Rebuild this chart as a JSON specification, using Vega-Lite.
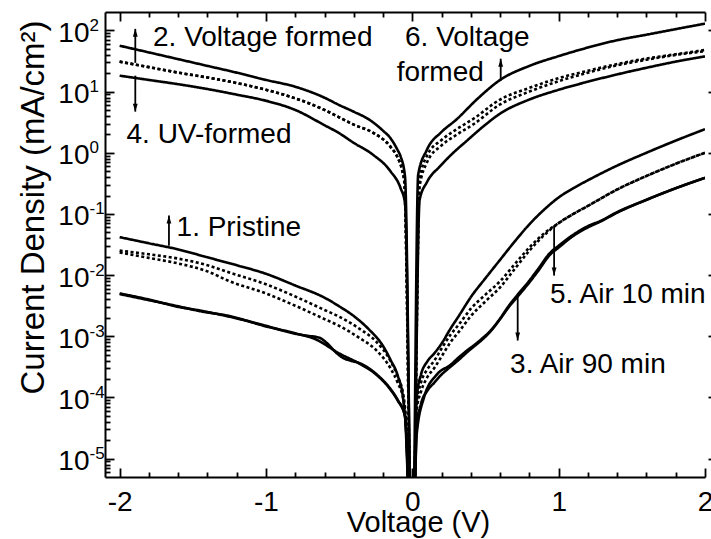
{
  "$schema": "https://vega.github.io/schema/vega-lite/v6.json",
  "width": 600,
  "height": 465,
  "autosize": {"type": "none"},
  "padding": {"left": 105, "top": 12, "right": 6, "bottom": 62},
  "background": "white",
  "config": {
    "view": {"stroke": null},
    "axis": {
      "grid": false,
      "labelFont": "Liberation Sans",
      "titleFont": "Liberation Sans",
      "labelColor": "black",
      "titleColor": "black",
      "tickColor": "black",
      "domainColor": "black",
      "titleFontWeight": "normal",
      "tickWidth": 1.8,
      "domainWidth": 2,
      "labelFontSize": 28,
      "labelOverlap": false,
      "labelFlush": false
    }
  },
  "datasets": {
    "curves": [
      {"sample": "1. Pristine", "sweep": "a", "V": -2, "J": 0.0417},
      {"sample": "1. Pristine", "sweep": "a", "V": -1.8, "J": 0.0331},
      {"sample": "1. Pristine", "sweep": "a", "V": -1.6, "J": 0.0263},
      {"sample": "1. Pristine", "sweep": "a", "V": -1.4, "J": 0.0195},
      {"sample": "1. Pristine", "sweep": "a", "V": -1.2, "J": 0.0145},
      {"sample": "1. Pristine", "sweep": "a", "V": -1, "J": 0.0105},
      {"sample": "1. Pristine", "sweep": "a", "V": -0.8, "J": 0.00676},
      {"sample": "1. Pristine", "sweep": "a", "V": -0.6, "J": 0.00427},
      {"sample": "1. Pristine", "sweep": "a", "V": -0.5, "J": 0.00309},
      {"sample": "1. Pristine", "sweep": "a", "V": -0.4, "J": 0.00214},
      {"sample": "1. Pristine", "sweep": "a", "V": -0.3, "J": 0.00132},
      {"sample": "1. Pristine", "sweep": "a", "V": -0.2, "J": 0.000692},
      {"sample": "1. Pristine", "sweep": "a", "V": -0.15, "J": 0.000417},
      {"sample": "1. Pristine", "sweep": "a", "V": -0.1, "J": 0.000229},
      {"sample": "1. Pristine", "sweep": "a", "V": -0.065, "J": 0.000105},
      {"sample": "1. Pristine", "sweep": "a", "V": -0.05, "J": 0.0000501},
      {"sample": "1. Pristine", "sweep": "a", "V": 0, "J": 1e-7},
      {"sample": "1. Pristine", "sweep": "a", "V": 0.03, "J": 0.0001},
      {"sample": "1. Pristine", "sweep": "a", "V": 0.06, "J": 0.00024},
      {"sample": "1. Pristine", "sweep": "a", "V": 0.1, "J": 0.00038},
      {"sample": "1. Pristine", "sweep": "a", "V": 0.15, "J": 0.000525},
      {"sample": "1. Pristine", "sweep": "a", "V": 0.2, "J": 0.000759},
      {"sample": "1. Pristine", "sweep": "a", "V": 0.26, "J": 0.00132},
      {"sample": "1. Pristine", "sweep": "a", "V": 0.32, "J": 0.00219},
      {"sample": "1. Pristine", "sweep": "a", "V": 0.4, "J": 0.00437},
      {"sample": "1. Pristine", "sweep": "a", "V": 0.5, "J": 0.00891},
      {"sample": "1. Pristine", "sweep": "a", "V": 0.6, "J": 0.0178},
      {"sample": "1. Pristine", "sweep": "a", "V": 0.7, "J": 0.0355},
      {"sample": "1. Pristine", "sweep": "a", "V": 0.8, "J": 0.0676},
      {"sample": "1. Pristine", "sweep": "a", "V": 0.9, "J": 0.117},
      {"sample": "1. Pristine", "sweep": "a", "V": 1, "J": 0.186},
      {"sample": "1. Pristine", "sweep": "a", "V": 1.1, "J": 0.263},
      {"sample": "1. Pristine", "sweep": "a", "V": 1.2, "J": 0.355},
      {"sample": "1. Pristine", "sweep": "a", "V": 1.4, "J": 0.617},
      {"sample": "1. Pristine", "sweep": "a", "V": 1.6, "J": 1.0},
      {"sample": "1. Pristine", "sweep": "a", "V": 1.8, "J": 1.58},
      {"sample": "1. Pristine", "sweep": "a", "V": 2, "J": 2.43},

      {"sample": "6. Voltage formed", "sweep": "a", "V": -2, "J": 56.2},
      {"sample": "6. Voltage formed", "sweep": "a", "V": -1.8, "J": 43.7},
      {"sample": "6. Voltage formed", "sweep": "a", "V": -1.6, "J": 33.9},
      {"sample": "6. Voltage formed", "sweep": "a", "V": -1.4, "J": 26.3},
      {"sample": "6. Voltage formed", "sweep": "a", "V": -1.2, "J": 20.4},
      {"sample": "6. Voltage formed", "sweep": "a", "V": -1, "J": 15.5},
      {"sample": "6. Voltage formed", "sweep": "a", "V": -0.8, "J": 12.0},
      {"sample": "6. Voltage formed", "sweep": "a", "V": -0.6, "J": 7.94},
      {"sample": "6. Voltage formed", "sweep": "a", "V": -0.5, "J": 6.03},
      {"sample": "6. Voltage formed", "sweep": "a", "V": -0.4, "J": 4.68},
      {"sample": "6. Voltage formed", "sweep": "a", "V": -0.3, "J": 3.55},
      {"sample": "6. Voltage formed", "sweep": "a", "V": -0.2, "J": 2.29},
      {"sample": "6. Voltage formed", "sweep": "a", "V": -0.15, "J": 1.74},
      {"sample": "6. Voltage formed", "sweep": "a", "V": -0.1, "J": 1.10},
      {"sample": "6. Voltage formed", "sweep": "a", "V": -0.08, "J": 0.871},
      {"sample": "6. Voltage formed", "sweep": "a", "V": -0.05, "J": 0.407},
      {"sample": "6. Voltage formed", "sweep": "a", "V": 0, "J": 1e-7},
      {"sample": "6. Voltage formed", "sweep": "a", "V": 0.04, "J": 0.437},
      {"sample": "6. Voltage formed", "sweep": "a", "V": 0.1, "J": 1.12},
      {"sample": "6. Voltage formed", "sweep": "a", "V": 0.2, "J": 2.19},
      {"sample": "6. Voltage formed", "sweep": "a", "V": 0.3, "J": 3.47},
      {"sample": "6. Voltage formed", "sweep": "a", "V": 0.44, "J": 7.41},
      {"sample": "6. Voltage formed", "sweep": "a", "V": 0.6, "J": 15.5},
      {"sample": "6. Voltage formed", "sweep": "a", "V": 0.8, "J": 26.3},
      {"sample": "6. Voltage formed", "sweep": "a", "V": 1, "J": 38.0},
      {"sample": "6. Voltage formed", "sweep": "a", "V": 1.2, "J": 52.5},
      {"sample": "6. Voltage formed", "sweep": "a", "V": 1.4, "J": 69.2},
      {"sample": "6. Voltage formed", "sweep": "a", "V": 1.6, "J": 85.1},
      {"sample": "6. Voltage formed", "sweep": "a", "V": 1.8, "J": 105},
      {"sample": "6. Voltage formed", "sweep": "a", "V": 2, "J": 129},

      {"sample": "2. Voltage formed", "sweep": "a", "V": -2, "J": 30.9},
      {"sample": "2. Voltage formed", "sweep": "a", "V": -1.8, "J": 25.1},
      {"sample": "2. Voltage formed", "sweep": "a", "V": -1.6, "J": 20.4},
      {"sample": "2. Voltage formed", "sweep": "a", "V": -1.4, "J": 17.0},
      {"sample": "2. Voltage formed", "sweep": "a", "V": -1.2, "J": 13.8},
      {"sample": "2. Voltage formed", "sweep": "a", "V": -1, "J": 10.7},
      {"sample": "2. Voltage formed", "sweep": "a", "V": -0.8, "J": 7.76},
      {"sample": "2. Voltage formed", "sweep": "a", "V": -0.6, "J": 5.01},
      {"sample": "2. Voltage formed", "sweep": "a", "V": -0.5, "J": 3.80},
      {"sample": "2. Voltage formed", "sweep": "a", "V": -0.4, "J": 2.88},
      {"sample": "2. Voltage formed", "sweep": "a", "V": -0.27, "J": 2.14},
      {"sample": "2. Voltage formed", "sweep": "a", "V": -0.15, "J": 1.26},
      {"sample": "2. Voltage formed", "sweep": "a", "V": -0.1, "J": 0.832},
      {"sample": "2. Voltage formed", "sweep": "a", "V": -0.07, "J": 0.525},
      {"sample": "2. Voltage formed", "sweep": "a", "V": -0.055, "J": 0.339},
      {"sample": "2. Voltage formed", "sweep": "a", "V": 0, "J": 1e-7},
      {"sample": "2. Voltage formed", "sweep": "a", "V": 0.05, "J": 0.363},
      {"sample": "2. Voltage formed", "sweep": "a", "V": 0.1, "J": 0.891},
      {"sample": "2. Voltage formed", "sweep": "a", "V": 0.2, "J": 1.62},
      {"sample": "2. Voltage formed", "sweep": "a", "V": 0.3, "J": 2.40},
      {"sample": "2. Voltage formed", "sweep": "a", "V": 0.42, "J": 3.63},
      {"sample": "2. Voltage formed", "sweep": "a", "V": 0.6, "J": 7.41},
      {"sample": "2. Voltage formed", "sweep": "a", "V": 0.8, "J": 11.5},
      {"sample": "2. Voltage formed", "sweep": "a", "V": 1, "J": 16.6},
      {"sample": "2. Voltage formed", "sweep": "a", "V": 1.2, "J": 21.9},
      {"sample": "2. Voltage formed", "sweep": "a", "V": 1.4, "J": 28.2},
      {"sample": "2. Voltage formed", "sweep": "a", "V": 1.6, "J": 34.7},
      {"sample": "2. Voltage formed", "sweep": "a", "V": 1.8, "J": 40.7},
      {"sample": "2. Voltage formed", "sweep": "a", "V": 2, "J": 47.9},

      {"sample": "2. Voltage formed", "sweep": "b", "V": -2, "J": 30.9},
      {"sample": "2. Voltage formed", "sweep": "b", "V": -1.8, "J": 25.1},
      {"sample": "2. Voltage formed", "sweep": "b", "V": -1.6, "J": 20.4},
      {"sample": "2. Voltage formed", "sweep": "b", "V": -1.4, "J": 17.0},
      {"sample": "2. Voltage formed", "sweep": "b", "V": -1.2, "J": 13.8},
      {"sample": "2. Voltage formed", "sweep": "b", "V": -1, "J": 10.7},
      {"sample": "2. Voltage formed", "sweep": "b", "V": -0.8, "J": 7.76},
      {"sample": "2. Voltage formed", "sweep": "b", "V": -0.6, "J": 5.01},
      {"sample": "2. Voltage formed", "sweep": "b", "V": -0.5, "J": 3.80},
      {"sample": "2. Voltage formed", "sweep": "b", "V": -0.4, "J": 2.88},
      {"sample": "2. Voltage formed", "sweep": "b", "V": -0.27, "J": 2.14},
      {"sample": "2. Voltage formed", "sweep": "b", "V": -0.15, "J": 1.26},
      {"sample": "2. Voltage formed", "sweep": "b", "V": -0.1, "J": 0.832},
      {"sample": "2. Voltage formed", "sweep": "b", "V": -0.07, "J": 0.525},
      {"sample": "2. Voltage formed", "sweep": "b", "V": -0.055, "J": 0.339},
      {"sample": "2. Voltage formed", "sweep": "b", "V": 0, "J": 1e-7},
      {"sample": "2. Voltage formed", "sweep": "b", "V": 0.05, "J": 0.282},
      {"sample": "2. Voltage formed", "sweep": "b", "V": 0.1, "J": 0.692},
      {"sample": "2. Voltage formed", "sweep": "b", "V": 0.2, "J": 1.32},
      {"sample": "2. Voltage formed", "sweep": "b", "V": 0.3, "J": 1.95},
      {"sample": "2. Voltage formed", "sweep": "b", "V": 0.42, "J": 2.95},
      {"sample": "2. Voltage formed", "sweep": "b", "V": 0.6, "J": 6.17},
      {"sample": "2. Voltage formed", "sweep": "b", "V": 0.8, "J": 10.0},
      {"sample": "2. Voltage formed", "sweep": "b", "V": 1, "J": 14.8},
      {"sample": "2. Voltage formed", "sweep": "b", "V": 1.2, "J": 20.4},
      {"sample": "2. Voltage formed", "sweep": "b", "V": 1.4, "J": 26.9},
      {"sample": "2. Voltage formed", "sweep": "b", "V": 1.6, "J": 33.1},
      {"sample": "2. Voltage formed", "sweep": "b", "V": 1.8, "J": 39.8},
      {"sample": "2. Voltage formed", "sweep": "b", "V": 2, "J": 45.7},

      {"sample": "4. UV-formed", "sweep": "a", "V": -2, "J": 18.2},
      {"sample": "4. UV-formed", "sweep": "a", "V": -1.8, "J": 15.5},
      {"sample": "4. UV-formed", "sweep": "a", "V": -1.6, "J": 13.2},
      {"sample": "4. UV-formed", "sweep": "a", "V": -1.4, "J": 11.0},
      {"sample": "4. UV-formed", "sweep": "a", "V": -1.2, "J": 8.91},
      {"sample": "4. UV-formed", "sweep": "a", "V": -1, "J": 7.08},
      {"sample": "4. UV-formed", "sweep": "a", "V": -0.8, "J": 5.01},
      {"sample": "4. UV-formed", "sweep": "a", "V": -0.6, "J": 2.82},
      {"sample": "4. UV-formed", "sweep": "a", "V": -0.5, "J": 2.09},
      {"sample": "4. UV-formed", "sweep": "a", "V": -0.4, "J": 1.45},
      {"sample": "4. UV-formed", "sweep": "a", "V": -0.27, "J": 0.933},
      {"sample": "4. UV-formed", "sweep": "a", "V": -0.15, "J": 0.501},
      {"sample": "4. UV-formed", "sweep": "a", "V": -0.08, "J": 0.263},
      {"sample": "4. UV-formed", "sweep": "a", "V": -0.05, "J": 0.151},
      {"sample": "4. UV-formed", "sweep": "a", "V": 0, "J": 1e-7},
      {"sample": "4. UV-formed", "sweep": "a", "V": 0.05, "J": 0.170},
      {"sample": "4. UV-formed", "sweep": "a", "V": 0.1, "J": 0.331},
      {"sample": "4. UV-formed", "sweep": "a", "V": 0.19, "J": 0.603},
      {"sample": "4. UV-formed", "sweep": "a", "V": 0.28, "J": 1.0},
      {"sample": "4. UV-formed", "sweep": "a", "V": 0.37, "J": 1.55},
      {"sample": "4. UV-formed", "sweep": "a", "V": 0.48, "J": 2.63},
      {"sample": "4. UV-formed", "sweep": "a", "V": 0.6, "J": 4.37},
      {"sample": "4. UV-formed", "sweep": "a", "V": 0.8, "J": 7.41},
      {"sample": "4. UV-formed", "sweep": "a", "V": 1, "J": 10.7},
      {"sample": "4. UV-formed", "sweep": "a", "V": 1.2, "J": 14.5},
      {"sample": "4. UV-formed", "sweep": "a", "V": 1.4, "J": 19.1},
      {"sample": "4. UV-formed", "sweep": "a", "V": 1.6, "J": 24.5},
      {"sample": "4. UV-formed", "sweep": "a", "V": 1.8, "J": 30.9},
      {"sample": "4. UV-formed", "sweep": "a", "V": 2, "J": 37.6},

      {"sample": "5. Air 10 min", "sweep": "a", "V": -2, "J": 0.0251},
      {"sample": "5. Air 10 min", "sweep": "a", "V": -1.8, "J": 0.0219},
      {"sample": "5. Air 10 min", "sweep": "a", "V": -1.6, "J": 0.0186},
      {"sample": "5. Air 10 min", "sweep": "a", "V": -1.4, "J": 0.0145},
      {"sample": "5. Air 10 min", "sweep": "a", "V": -1.25, "J": 0.011},
      {"sample": "5. Air 10 min", "sweep": "a", "V": -1, "J": 0.00708},
      {"sample": "5. Air 10 min", "sweep": "a", "V": -0.8, "J": 0.00447},
      {"sample": "5. Air 10 min", "sweep": "a", "V": -0.6, "J": 0.00269},
      {"sample": "5. Air 10 min", "sweep": "a", "V": -0.5, "J": 0.00209},
      {"sample": "5. Air 10 min", "sweep": "a", "V": -0.36, "J": 0.00132},
      {"sample": "5. Air 10 min", "sweep": "a", "V": -0.25, "J": 0.000832},
      {"sample": "5. Air 10 min", "sweep": "a", "V": -0.15, "J": 0.000398},
      {"sample": "5. Air 10 min", "sweep": "a", "V": -0.1, "J": 0.000219},
      {"sample": "5. Air 10 min", "sweep": "a", "V": -0.06, "J": 0.000105},
      {"sample": "5. Air 10 min", "sweep": "a", "V": -0.045, "J": 0.0000501},
      {"sample": "5. Air 10 min", "sweep": "a", "V": 0, "J": 1e-7},
      {"sample": "5. Air 10 min", "sweep": "a", "V": 0.03, "J": 0.0000794},
      {"sample": "5. Air 10 min", "sweep": "a", "V": 0.06, "J": 0.000178},
      {"sample": "5. Air 10 min", "sweep": "a", "V": 0.1, "J": 0.000282},
      {"sample": "5. Air 10 min", "sweep": "a", "V": 0.15, "J": 0.000398},
      {"sample": "5. Air 10 min", "sweep": "a", "V": 0.2, "J": 0.000631},
      {"sample": "5. Air 10 min", "sweep": "a", "V": 0.26, "J": 0.00105},
      {"sample": "5. Air 10 min", "sweep": "a", "V": 0.32, "J": 0.00158},
      {"sample": "5. Air 10 min", "sweep": "a", "V": 0.4, "J": 0.00282},
      {"sample": "5. Air 10 min", "sweep": "a", "V": 0.5, "J": 0.00479},
      {"sample": "5. Air 10 min", "sweep": "a", "V": 0.6, "J": 0.00794},
      {"sample": "5. Air 10 min", "sweep": "a", "V": 0.7, "J": 0.0151},
      {"sample": "5. Air 10 min", "sweep": "a", "V": 0.8, "J": 0.0282},
      {"sample": "5. Air 10 min", "sweep": "a", "V": 0.9, "J": 0.0479},
      {"sample": "5. Air 10 min", "sweep": "a", "V": 1, "J": 0.0708},
      {"sample": "5. Air 10 min", "sweep": "a", "V": 1.1, "J": 0.1},
      {"sample": "5. Air 10 min", "sweep": "a", "V": 1.2, "J": 0.135},
      {"sample": "5. Air 10 min", "sweep": "a", "V": 1.4, "J": 0.251},
      {"sample": "5. Air 10 min", "sweep": "a", "V": 1.6, "J": 0.417},
      {"sample": "5. Air 10 min", "sweep": "a", "V": 1.8, "J": 0.661},
      {"sample": "5. Air 10 min", "sweep": "a", "V": 2, "J": 1.0},

      {"sample": "5. Air 10 min", "sweep": "b", "V": -2, "J": 0.0234},
      {"sample": "5. Air 10 min", "sweep": "b", "V": -1.8, "J": 0.0191},
      {"sample": "5. Air 10 min", "sweep": "b", "V": -1.6, "J": 0.0155},
      {"sample": "5. Air 10 min", "sweep": "b", "V": -1.4, "J": 0.0115},
      {"sample": "5. Air 10 min", "sweep": "b", "V": -1.25, "J": 0.00794},
      {"sample": "5. Air 10 min", "sweep": "b", "V": -1, "J": 0.00501},
      {"sample": "5. Air 10 min", "sweep": "b", "V": -0.8, "J": 0.00316},
      {"sample": "5. Air 10 min", "sweep": "b", "V": -0.6, "J": 0.00191},
      {"sample": "5. Air 10 min", "sweep": "b", "V": -0.5, "J": 0.00148},
      {"sample": "5. Air 10 min", "sweep": "b", "V": -0.36, "J": 0.000933},
      {"sample": "5. Air 10 min", "sweep": "b", "V": -0.25, "J": 0.000603},
      {"sample": "5. Air 10 min", "sweep": "b", "V": -0.15, "J": 0.000302},
      {"sample": "5. Air 10 min", "sweep": "b", "V": -0.1, "J": 0.000174},
      {"sample": "5. Air 10 min", "sweep": "b", "V": -0.06, "J": 0.0000891},
      {"sample": "5. Air 10 min", "sweep": "b", "V": -0.045, "J": 0.0000447},
      {"sample": "5. Air 10 min", "sweep": "b", "V": 0, "J": 1e-7},
      {"sample": "5. Air 10 min", "sweep": "b", "V": 0.03, "J": 0.0000631},
      {"sample": "5. Air 10 min", "sweep": "b", "V": 0.06, "J": 0.000126},
      {"sample": "5. Air 10 min", "sweep": "b", "V": 0.1, "J": 0.000209},
      {"sample": "5. Air 10 min", "sweep": "b", "V": 0.15, "J": 0.000302},
      {"sample": "5. Air 10 min", "sweep": "b", "V": 0.2, "J": 0.000468},
      {"sample": "5. Air 10 min", "sweep": "b", "V": 0.26, "J": 0.000794},
      {"sample": "5. Air 10 min", "sweep": "b", "V": 0.32, "J": 0.0012},
      {"sample": "5. Air 10 min", "sweep": "b", "V": 0.4, "J": 0.00214},
      {"sample": "5. Air 10 min", "sweep": "b", "V": 0.5, "J": 0.00372},
      {"sample": "5. Air 10 min", "sweep": "b", "V": 0.6, "J": 0.00631},
      {"sample": "5. Air 10 min", "sweep": "b", "V": 0.7, "J": 0.0126},
      {"sample": "5. Air 10 min", "sweep": "b", "V": 0.8, "J": 0.0251},
      {"sample": "5. Air 10 min", "sweep": "b", "V": 0.9, "J": 0.0447},
      {"sample": "5. Air 10 min", "sweep": "b", "V": 1, "J": 0.0708},
      {"sample": "5. Air 10 min", "sweep": "b", "V": 1.1, "J": 0.1},
      {"sample": "5. Air 10 min", "sweep": "b", "V": 1.2, "J": 0.135},
      {"sample": "5. Air 10 min", "sweep": "b", "V": 1.4, "J": 0.251},
      {"sample": "5. Air 10 min", "sweep": "b", "V": 1.6, "J": 0.417},
      {"sample": "5. Air 10 min", "sweep": "b", "V": 1.8, "J": 0.661},
      {"sample": "5. Air 10 min", "sweep": "b", "V": 2, "J": 1.0},

      {"sample": "3. Air 90 min", "sweep": "a", "V": -2, "J": 0.0049},
      {"sample": "3. Air 90 min", "sweep": "a", "V": -1.8, "J": 0.00389},
      {"sample": "3. Air 90 min", "sweep": "a", "V": -1.6, "J": 0.00309},
      {"sample": "3. Air 90 min", "sweep": "a", "V": -1.45, "J": 0.00257},
      {"sample": "3. Air 90 min", "sweep": "a", "V": -1.25, "J": 0.00214},
      {"sample": "3. Air 90 min", "sweep": "a", "V": -1, "J": 0.00145},
      {"sample": "3. Air 90 min", "sweep": "a", "V": -0.8, "J": 0.00112},
      {"sample": "3. Air 90 min", "sweep": "a", "V": -0.66, "J": 0.000891},
      {"sample": "3. Air 90 min", "sweep": "a", "V": -0.5, "J": 0.000525},
      {"sample": "3. Air 90 min", "sweep": "a", "V": -0.36, "J": 0.000355},
      {"sample": "3. Air 90 min", "sweep": "a", "V": -0.25, "J": 0.00024},
      {"sample": "3. Air 90 min", "sweep": "a", "V": -0.15, "J": 0.000135},
      {"sample": "3. Air 90 min", "sweep": "a", "V": -0.1, "J": 0.0000891},
      {"sample": "3. Air 90 min", "sweep": "a", "V": -0.05, "J": 0.000049},
      {"sample": "3. Air 90 min", "sweep": "a", "V": 0, "J": 1e-7},
      {"sample": "3. Air 90 min", "sweep": "a", "V": 0.03, "J": 0.0000316},
      {"sample": "3. Air 90 min", "sweep": "a", "V": 0.06, "J": 0.0000794},
      {"sample": "3. Air 90 min", "sweep": "a", "V": 0.1, "J": 0.000126},
      {"sample": "3. Air 90 min", "sweep": "a", "V": 0.15, "J": 0.000174},
      {"sample": "3. Air 90 min", "sweep": "a", "V": 0.19, "J": 0.000224},
      {"sample": "3. Air 90 min", "sweep": "a", "V": 0.26, "J": 0.000316},
      {"sample": "3. Air 90 min", "sweep": "a", "V": 0.32, "J": 0.000417},
      {"sample": "3. Air 90 min", "sweep": "a", "V": 0.37, "J": 0.000537},
      {"sample": "3. Air 90 min", "sweep": "a", "V": 0.43, "J": 0.000708},
      {"sample": "3. Air 90 min", "sweep": "a", "V": 0.48, "J": 0.000891},
      {"sample": "3. Air 90 min", "sweep": "a", "V": 0.53, "J": 0.00117},
      {"sample": "3. Air 90 min", "sweep": "a", "V": 0.6, "J": 0.00191},
      {"sample": "3. Air 90 min", "sweep": "a", "V": 0.66, "J": 0.00302},
      {"sample": "3. Air 90 min", "sweep": "a", "V": 0.72, "J": 0.00447},
      {"sample": "3. Air 90 min", "sweep": "a", "V": 0.8, "J": 0.00759},
      {"sample": "3. Air 90 min", "sweep": "a", "V": 0.86, "J": 0.0117},
      {"sample": "3. Air 90 min", "sweep": "a", "V": 0.94, "J": 0.0214},
      {"sample": "3. Air 90 min", "sweep": "a", "V": 1, "J": 0.0282},
      {"sample": "3. Air 90 min", "sweep": "a", "V": 1.1, "J": 0.0437},
      {"sample": "3. Air 90 min", "sweep": "a", "V": 1.2, "J": 0.0603},
      {"sample": "3. Air 90 min", "sweep": "a", "V": 1.29, "J": 0.0759},
      {"sample": "3. Air 90 min", "sweep": "a", "V": 1.4, "J": 0.105},
      {"sample": "3. Air 90 min", "sweep": "a", "V": 1.6, "J": 0.17},
      {"sample": "3. Air 90 min", "sweep": "a", "V": 1.8, "J": 0.263},
      {"sample": "3. Air 90 min", "sweep": "a", "V": 2, "J": 0.389},

      {"sample": "3. Air 90 min", "sweep": "b", "V": -2, "J": 0.00501},
      {"sample": "3. Air 90 min", "sweep": "b", "V": -1.8, "J": 0.00398},
      {"sample": "3. Air 90 min", "sweep": "b", "V": -1.6, "J": 0.00302},
      {"sample": "3. Air 90 min", "sweep": "b", "V": -1.45, "J": 0.00263},
      {"sample": "3. Air 90 min", "sweep": "b", "V": -1.25, "J": 0.00209},
      {"sample": "3. Air 90 min", "sweep": "b", "V": -1, "J": 0.00148},
      {"sample": "3. Air 90 min", "sweep": "b", "V": -0.8, "J": 0.0011},
      {"sample": "3. Air 90 min", "sweep": "b", "V": -0.72, "J": 0.00102},
      {"sample": "3. Air 90 min", "sweep": "b", "V": -0.64, "J": 0.000955},
      {"sample": "3. Air 90 min", "sweep": "b", "V": -0.58, "J": 0.000759},
      {"sample": "3. Air 90 min", "sweep": "b", "V": -0.52, "J": 0.000537},
      {"sample": "3. Air 90 min", "sweep": "b", "V": -0.47, "J": 0.000437},
      {"sample": "3. Air 90 min", "sweep": "b", "V": -0.42, "J": 0.000398},
      {"sample": "3. Air 90 min", "sweep": "b", "V": -0.36, "J": 0.000363},
      {"sample": "3. Air 90 min", "sweep": "b", "V": -0.25, "J": 0.000245},
      {"sample": "3. Air 90 min", "sweep": "b", "V": -0.15, "J": 0.000138},
      {"sample": "3. Air 90 min", "sweep": "b", "V": -0.1, "J": 0.0000912},
      {"sample": "3. Air 90 min", "sweep": "b", "V": -0.05, "J": 0.0000501},
      {"sample": "3. Air 90 min", "sweep": "b", "V": 0, "J": 1e-7},
      {"sample": "3. Air 90 min", "sweep": "b", "V": 0.03, "J": 0.0000251},
      {"sample": "3. Air 90 min", "sweep": "b", "V": 0.08, "J": 0.0001},
      {"sample": "3. Air 90 min", "sweep": "b", "V": 0.17, "J": 0.00024},
      {"sample": "3. Air 90 min", "sweep": "b", "V": 0.26, "J": 0.000339},
      {"sample": "3. Air 90 min", "sweep": "b", "V": 0.32, "J": 0.000457},
      {"sample": "3. Air 90 min", "sweep": "b", "V": 0.37, "J": 0.000575},
      {"sample": "3. Air 90 min", "sweep": "b", "V": 0.43, "J": 0.000741},
      {"sample": "3. Air 90 min", "sweep": "b", "V": 0.48, "J": 0.000933},
      {"sample": "3. Air 90 min", "sweep": "b", "V": 0.53, "J": 0.0012},
      {"sample": "3. Air 90 min", "sweep": "b", "V": 0.6, "J": 0.00195},
      {"sample": "3. Air 90 min", "sweep": "b", "V": 0.66, "J": 0.00316},
      {"sample": "3. Air 90 min", "sweep": "b", "V": 0.72, "J": 0.00479},
      {"sample": "3. Air 90 min", "sweep": "b", "V": 0.8, "J": 0.00813},
      {"sample": "3. Air 90 min", "sweep": "b", "V": 0.86, "J": 0.0126},
      {"sample": "3. Air 90 min", "sweep": "b", "V": 0.94, "J": 0.0229},
      {"sample": "3. Air 90 min", "sweep": "b", "V": 1, "J": 0.0302},
      {"sample": "3. Air 90 min", "sweep": "b", "V": 1.1, "J": 0.0457},
      {"sample": "3. Air 90 min", "sweep": "b", "V": 1.2, "J": 0.0631},
      {"sample": "3. Air 90 min", "sweep": "b", "V": 1.29, "J": 0.0776},
      {"sample": "3. Air 90 min", "sweep": "b", "V": 1.4, "J": 0.107},
      {"sample": "3. Air 90 min", "sweep": "b", "V": 1.6, "J": 0.17},
      {"sample": "3. Air 90 min", "sweep": "b", "V": 1.8, "J": 0.263},
      {"sample": "3. Air 90 min", "sweep": "b", "V": 2, "J": 0.389}
    ],
    "arrows": [
      {"V": -1.893, "J0": 29.5, "J1": 106, "dir": "up"},
      {"V": -1.893, "J0": 18.2, "J1": 4.7, "dir": "down"},
      {"V": -1.663, "J0": 0.0303, "J1": 0.094, "dir": "up"},
      {"V": 0.604, "J0": 15.1, "J1": 34.5, "dir": "up"},
      {"V": 0.969, "J0": 0.0627, "J1": 0.0098, "dir": "down"},
      {"V": 0.72, "J0": 0.00451, "J1": 0.00085, "dir": "down"}
    ],
    "notes": [
      {"text": "2. Voltage formed", "V": -1.772, "J": 55.5},
      {"text": "6. Voltage", "V": -0.05, "J": 55.5},
      {"text": "formed", "V": -0.107, "J": 14.7},
      {"text": "4. UV-formed", "V": -1.953, "J": 1.44},
      {"text": "1. Pristine", "V": -1.611, "J": 0.0429},
      {"text": "5. Air 10 min", "V": 0.941, "J": 0.00349},
      {"text": "3. Air 90 min", "V": 0.668, "J": 0.000251}
    ]
  },
  "resolve": {"axis": {"x": "independent", "y": "independent"}},
  "layer": [
    {
      "data": {"name": "curves"},
      "mark": {"type": "line", "clip": true, "color": "black", "interpolate": "monotone", "strokeCap": "butt", "strokeJoin": "round"},
      "encoding": {
        "x": {
          "field": "V", "type": "quantitative",
          "scale": {"domain": [-2.1, 2.0], "nice": false, "zero": false},
          "axis": {
            "orient": "bottom", "values": [-2, -1, 0, 1, 2], "ticks": false,
            "domain": true, "labelExpr": "'' + datum.value",
            "labelBaseline": "alphabetic", "labelPadding": 33,
            "title": "Voltage (V)", "titleFontSize": 29,
            "titleX": 313, "titleY": 54, "titleBaseline": "alphabetic"
          }
        },
        "y": {
          "field": "J", "type": "quantitative",
          "scale": {"type": "log", "domain": [0.000005, 200], "nice": false},
          "axis": {
            "orient": "left", "values": [0.00001, 0.0001, 0.001, 0.01, 0.1, 1, 10, 100],
            "ticks": false, "domain": true, "labelExpr": "'10'",
            "labelAlign": "right", "labelBaseline": "alphabetic", "labelOffset": 11,
            "labelPadding": 16,
            "title": "Current Density (mA/cm²)", "titleFontSize": 33,
            "titleX": -62, "titleY": 195, "titleBaseline": "alphabetic"
          }
        },
        "detail": [{"field": "sample"}, {"field": "sweep"}],
        "strokeDash": {
          "field": "sample", "type": "nominal", "legend": null,
          "scale": {
            "domain": ["1. Pristine", "2. Voltage formed", "3. Air 90 min", "4. UV-formed", "5. Air 10 min", "6. Voltage formed"],
            "range": [[1, 0], [3, 2.5], [1, 0], [1, 0], [3, 2.5], [1, 0]]
          }
        },
        "strokeWidth": {
          "field": "sample", "type": "nominal", "legend": null,
          "scale": {
            "domain": ["1. Pristine", "2. Voltage formed", "3. Air 90 min", "4. UV-formed", "5. Air 10 min", "6. Voltage formed"],
            "range": [2.6, 2.6, 1.8, 3.4, 2.6, 2.6]
          }
        }
      }
    },
    {
      "data": {"name": "arrows"},
      "mark": {"type": "rule", "color": "black", "strokeWidth": 1.8},
      "encoding": {
        "x": {
          "field": "V", "type": "quantitative",
          "scale": {"domain": [-2.1, 2.0], "nice": false, "zero": false},
          "axis": {"orient": "bottom", "values": [-2, -1, 0, 1, 2], "labels": false, "domain": false, "tickSize": -9, "title": null}
        },
        "y": {
          "field": "J0", "type": "quantitative",
          "scale": {"type": "log", "domain": [0.000005, 200], "nice": false},
          "axis": {"orient": "left", "values": [0.00001, 0.0001, 0.001, 0.01, 0.1, 1, 10, 100], "labels": false, "domain": false, "tickSize": -9, "title": null}
        },
        "y2": {"field": "J1"}
      }
    },
    {
      "data": {"name": "arrows"},
      "transform": [{"filter": "datum.dir === 'up'"}],
      "mark": {"type": "point", "filled": true, "color": "black", "opacity": 1, "strokeWidth": 0, "size": 64, "shape": "M0,-1L0.6,1L-0.6,1Z", "yOffset": 4},
      "encoding": {
        "x": {
          "field": "V", "type": "quantitative",
          "scale": {"domain": [-2.1, 2.0], "nice": false, "zero": false},
          "axis": {"orient": "bottom", "values": [-1.8, -1.6, -1.4, -1.2, -0.8, -0.6, -0.4, -0.2, 0.2, 0.4, 0.6, 0.8, 1.2, 1.4, 1.6, 1.8], "labels": false, "domain": false, "tickSize": -5, "title": null}
        },
        "y": {
          "field": "J1", "type": "quantitative",
          "scale": {"type": "log", "domain": [0.000005, 200], "nice": false},
          "axis": {
            "orient": "left",
            "values": [0.000006, 0.000007, 0.000008, 0.000009, 0.00002, 0.00003, 0.00004, 0.00005, 0.00006, 0.00007, 0.00008, 0.00009, 0.0002, 0.0003, 0.0004, 0.0005, 0.0006, 0.0007, 0.0008, 0.0009, 0.002, 0.003, 0.004, 0.005, 0.006, 0.007, 0.008, 0.009, 0.02, 0.03, 0.04, 0.05, 0.06, 0.07, 0.08, 0.09, 0.2, 0.3, 0.4, 0.5, 0.6, 0.7, 0.8, 0.9, 2, 3, 4, 5, 6, 7, 8, 9, 20, 30, 40, 50, 60, 70, 80, 90],
            "labels": false, "domain": false, "tickSize": -5, "title": null
          }
        }
      }
    },
    {
      "data": {"name": "arrows"},
      "transform": [{"filter": "datum.dir === 'down'"}],
      "mark": {"type": "point", "filled": true, "color": "black", "opacity": 1, "strokeWidth": 0, "size": 64, "shape": "M0,1L0.6,-1L-0.6,-1Z", "yOffset": -4},
      "encoding": {
        "x": {
          "field": "V", "type": "quantitative",
          "scale": {"domain": [-2.1, 2.0], "nice": false, "zero": false},
          "axis": {"orient": "top", "values": [-2, -1, 0, 1, 2], "labels": false, "domain": true, "tickSize": -9, "title": null}
        },
        "y": {
          "field": "J1", "type": "quantitative",
          "scale": {"type": "log", "domain": [0.000005, 200], "nice": false},
          "axis": {
            "orient": "left", "values": [0.00001, 0.0001, 0.001, 0.01, 0.1, 1, 10, 100],
            "ticks": false, "domain": false,
            "labelExpr": "'' + round(log(datum.value) / LN10)",
            "labelFontSize": 17, "labelAlign": "left", "labelBaseline": "alphabetic",
            "labelPadding": 16, "labelOffset": 0, "title": null
          }
        }
      }
    },
    {
      "data": {"name": "notes"},
      "mark": {"type": "text", "align": "left", "baseline": "alphabetic", "font": "Liberation Sans", "fontSize": 28, "color": "black"},
      "encoding": {
        "x": {
          "field": "V", "type": "quantitative",
          "scale": {"domain": [-2.1, 2.0], "nice": false, "zero": false},
          "axis": {"orient": "top", "values": [-1.8, -1.6, -1.4, -1.2, -0.8, -0.6, -0.4, -0.2, 0.2, 0.4, 0.6, 0.8, 1.2, 1.4, 1.6, 1.8], "labels": false, "domain": false, "tickSize": -5, "title": null}
        },
        "y": {
          "field": "J", "type": "quantitative",
          "scale": {"type": "log", "domain": [0.000005, 200], "nice": false},
          "axis": {"orient": "right", "values": [0.00001, 0.0001, 0.001, 0.01, 0.1, 1, 10, 100], "labels": false, "domain": false, "tickSize": 4, "offset": 3, "title": null}
        },
        "text": {"field": "text"}
      }
    }
  ]
}
